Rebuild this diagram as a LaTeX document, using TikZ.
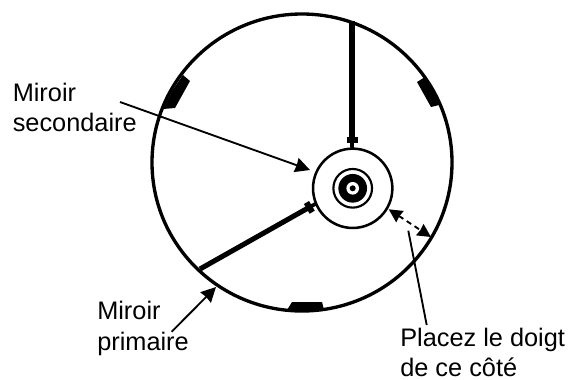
\documentclass[tikz,border=0pt]{standalone}
\usepackage{fontspec}
\setmainfont{Liberation Sans}
\usetikzlibrary{arrows.meta, positioning}

\begin{document}
\begin{tikzpicture}[
    x=0.75pt, y=-0.75pt,
    label/.style={align=left, font=\fontsize{19}{22.8}\selectfont, inner sep=0pt, anchor=north west},
    rim/.style={draw=black, line width=2.5pt},
    round/.style={circle, inner sep=0pt, outer sep=0pt},
    vane/.style={line width=3.8pt},
    vanetip/.style={line width=2.8pt},
    vanecross/.style={line width=4.5pt},
    pad/.style={fill=black},
    arr/.style={-{Stealth[length=11pt, width=11pt, inset=0.5pt]}, line width=1.4pt},
    darr/.style={{Stealth[length=10pt, width=10pt, inset=0.5pt]}-{Stealth[length=10pt, width=10pt, inset=0.5pt]}, line width=1.4pt, dash pattern=on 4pt off 3pt},
  ]
    \useasboundingbox (0,0) rectangle (570,379);

    % tube wall
    \draw[rim] (302,162.5) ellipse [x radius=150, y radius=148.5];

    % pads
    \fill[pad] (183,75) -- (190,81) -- (175,108) -- (163,109) -- (172,91) -- cycle;
    \fill[pad] (425,77) -- (417,82) -- (431,107) -- (439,105) -- (433.5,90) -- cycle;
    \fill[pad] (292,302) -- (322,302) -- (324,310) -- (287,310) -- cycle;

    % vanes
    \coordinate (ctr) at (352.7,188.3);
    \coordinate (vtop) at (352,21);
    \coordinate (vtopend) at (352,139);
    \coordinate (vleft) at (200,269);
    \coordinate (vleftend) at (309.3,207.3);
    \coordinate (vleftin) at (318,202.5);
    \draw[vane] (vtop) -- (vtopend);
    \draw[vanecross] (346.5,140) -- (357.5,140);
    \draw[vanetip] (vtopend) -- (ctr);
    \draw[vane] (vleft) -- (vleftend);
    \draw[vanecross] (306.5,202.5) -- (312.2,212.2);
    \draw[vanetip] (vleftend) -- (vleftin);

    % centre piece
    \node[round, draw=black, line width=1.9pt, fill=white, minimum size=59.5pt] (sec) at (ctr) {};
    \node[round, draw=black, line width=1.6pt, minimum size=29pt] (ring) at (ctr) {};
    \node[round, fill=black, minimum size=21.5pt] (disc) at (ctr) {};
    \node[round, fill=white, minimum size=9.5pt] (hole) at (ctr) {};
    \node[round, fill=black, minimum size=4.5pt] (dot) at (ctr) {};

    % labels
    \node[label] (sdy) at (12.5,82.5) {Miroir\\secondaire};
    \node[label] (pri) at (97,301) {Miroir\\primaire};
    \node[label] (doigt) at (400,327.5) {Placez le doigt\\de ce côté};

    % arrows
    \coordinate (sdyend) at (120,102);
    \coordinate (sdytip) at (310,170);
    \coordinate (priend) at (171.7,331.7);
    \coordinate (pritip) at (216,287);
    \coordinate (doigtstart) at (426.7,325);
    \coordinate (doigtend) at (408.3,230.7);
    \coordinate (dleft) at (388.7,209.3);
    \coordinate (dright) at (431,237);
    \draw[arr] (sdyend) -- (sdytip);
    \draw[arr] (priend) -- (pritip);
    \draw[line width=1.4pt] (doigtstart) -- (doigtend);
    \draw[darr] (dleft) -- (dright);
\end{tikzpicture}
\end{document}
